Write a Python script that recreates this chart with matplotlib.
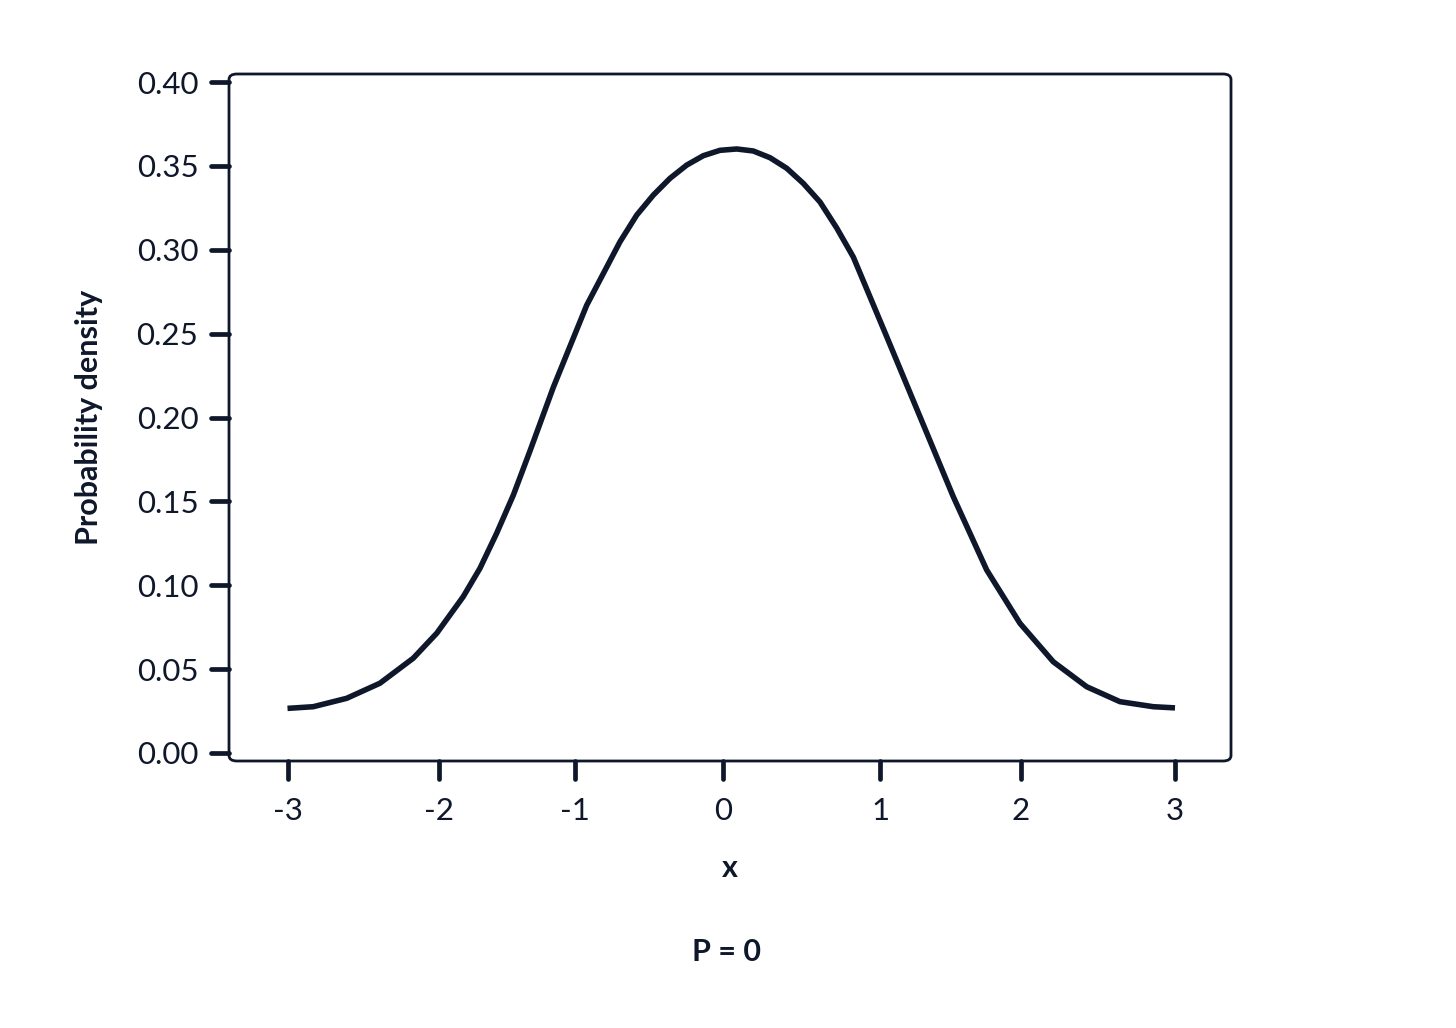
import matplotlib
matplotlib.use("Agg")
import matplotlib.pyplot as plt
from matplotlib.patches import FancyBboxPatch
from matplotlib.markers import MarkerStyle

# ---- data ----
x_vals = [-3.000, -2.826, -2.600, -2.375, -2.150, -1.991, -1.812, -1.699, -1.586,
          -1.473, -1.361, -1.203, -0.977, -0.752, -0.639, -0.527, -0.414, -0.301,
          -0.189, -0.076, 0.037, 0.149, 0.262, 0.375, 0.487, 0.600, 0.713, 0.825,
          1.051, 1.276, 1.501, 1.727, 1.952, 2.177, 2.403, 2.628, 2.853, 3.000]
density = [0.0266, 0.0276, 0.0326, 0.0416, 0.0565, 0.0714, 0.0932, 0.1101, 0.1310,
           0.1538, 0.1800, 0.2180, 0.2670, 0.3048, 0.3207, 0.3326, 0.3426, 0.3505,
           0.3561, 0.3593, 0.3601, 0.3589, 0.3549, 0.3486, 0.3396, 0.3285, 0.3130, 0.2957,
           0.2482, 0.2005, 0.1528, 0.1091, 0.0773, 0.0544, 0.0395, 0.0306, 0.0276, 0.0269]

x_tick_pos = [-3.0, -1.979, -1.056, -0.058, 1.008, 1.957, 3.0]
x_tick_labels = ["-3", "-2", "-1", "0", "1", "2", "3"]
y_ticks = [0.00, 0.05, 0.10, 0.15, 0.20, 0.25, 0.30, 0.35, 0.40]
y_tick_labels = ["0.00", "0.05", "0.10", "0.15", "0.20", "0.25", "0.30", "0.35", "0.40"]

x_label = "x"
y_label = "Probability density"
caption = "P = 0"

INK = "#0f172a"
plt.rcParams["font.family"] = ["Lato", "DejaVu Sans"]

fig = plt.figure(figsize=(14.56, 10.28), dpi=100)
ax = fig.add_axes([229 / 1456, 1 - 761 / 1028, (1231 - 229) / 1456, (761 - 74) / 1028])

ax.plot(x_vals, density, color=INK, lw=4.0, solid_capstyle="butt", solid_joinstyle="round")

ax.set_xlim(-3.3955, 3.3786)
ax.set_ylim(-0.00477, 0.4048)

for s in ax.spines.values():
    s.set_visible(False)
frame = FancyBboxPatch((0, 0), 1, 1, boxstyle="round,pad=0,rounding_size=0.008",
                       transform=ax.transAxes, fill=False, ec=INK, lw=2.0,
                       clip_on=False, zorder=5)
ax.add_patch(frame)

ax.set_xticks(x_tick_pos)
ax.set_xticklabels(x_tick_labels)
ax.set_yticks(y_ticks)
ax.set_yticklabels(y_tick_labels)
ax.tick_params(axis="both", direction="out", length=13, width=3.4, color=INK,
               labelcolor=INK, labelsize=22.5)
ax.tick_params(axis="x", pad=13)
ax.tick_params(axis="y", pad=9)
for t in ax.xaxis.get_major_ticks():
    t.tick1line.set_marker(MarkerStyle(3, capstyle="round"))
for t in ax.yaxis.get_major_ticks():
    t.tick1line.set_marker(MarkerStyle(0, capstyle="round"))

ax.set_xlabel(x_label, fontsize=22, fontweight="bold", color=INK, labelpad=21)
ax.set_ylabel(y_label, fontsize=22, fontweight="bold", color=INK, labelpad=24)

fig.text(726 / 1456, 1 - 952 / 1028, caption, ha="center", va="center",
         fontsize=22, fontweight="bold", color=INK)

fig.savefig("out.png", dpi=100, facecolor="white")
